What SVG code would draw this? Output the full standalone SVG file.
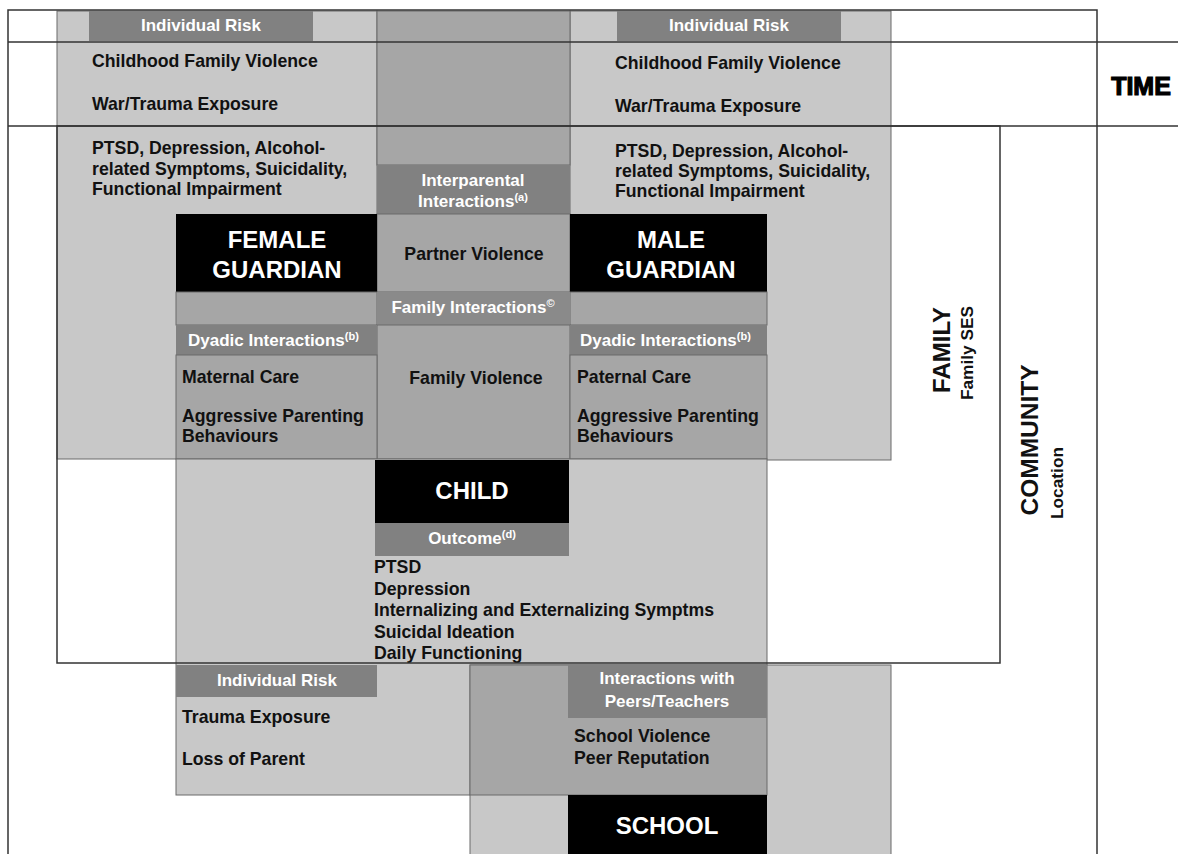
<svg xmlns="http://www.w3.org/2000/svg" width="1178" height="854" viewBox="0 0 1178 854">
<style>
text{font-family:"Liberation Sans",Arial,sans-serif;font-weight:bold}
.t{font-size:17.7px;fill:#111}
.h{font-size:17px;fill:#fff}
.k{font-size:24px;fill:#fff}
.r{font-size:17.3px;fill:#111}
.sup{font-size:11px}
.lt{fill:#c8c8c8;stroke:#6a6a6a;stroke-width:1}
.md{fill:#a6a6a6;stroke:#6a6a6a;stroke-width:1}
.dk{fill:#818181}
.bk{fill:#000}
.ln{stroke:#333;stroke-width:1.5;fill:none}
</style>
<rect width="1178" height="854" fill="#fff"/>

<g id="female-individual">
<rect class="lt" x="57" y="11" width="320" height="448"/>
<rect class="dk" x="89" y="11" width="224" height="30"/>
<text class="h" x="201" y="31" text-anchor="middle">Individual Risk</text>
<text class="t" x="92" y="67">Childhood Family Violence</text>
<text class="t" x="92" y="110">War/Trauma Exposure</text>
<text class="t" x="92" y="154">PTSD, Depression, Alcohol-</text>
<text class="t" x="92" y="175">related Symptoms, Suicidality,</text>
<text class="t" x="92" y="195">Functional Impairment</text>
</g>

<g id="male-individual">
<rect class="lt" x="570" y="11" width="321" height="449"/>
<rect class="dk" x="617" y="11" width="224" height="30"/>
<text class="h" x="729" y="31" text-anchor="middle">Individual Risk</text>
<text class="t" x="615" y="69">Childhood Family Violence</text>
<text class="t" x="615" y="112">War/Trauma Exposure</text>
<text class="t" x="615" y="157">PTSD, Depression, Alcohol-</text>
<text class="t" x="615" y="177">related Symptoms, Suicidality,</text>
<text class="t" x="615" y="197">Functional Impairment</text>
</g>

<g id="interparental">
<rect class="md" x="377" y="11" width="193" height="154"/>
<rect class="dk" x="377" y="165" width="193" height="49"/>
<text class="h" x="473" y="186" text-anchor="middle">Interparental</text>
<text class="h" x="473" y="207" text-anchor="middle">Interactions<tspan class="sup" dy="-6">(a)</tspan></text>
<rect class="md" x="377" y="214" width="193" height="78"/>
<text class="t" x="474" y="260" text-anchor="middle">Partner Violence</text>
</g>

<g id="female-guardian">
<rect class="bk" x="176" y="214" width="201" height="78"/>
<text class="k" x="277" y="248" text-anchor="middle">FEMALE</text>
<text class="k" x="277" y="278" text-anchor="middle">GUARDIAN</text>
</g>

<g id="male-guardian">
<rect class="bk" x="570" y="214" width="197" height="78"/>
<text class="k" x="671" y="248" text-anchor="middle">MALE</text>
<text class="k" x="671" y="278" text-anchor="middle">GUARDIAN</text>
</g>

<g id="family-interactions">
<rect class="md" x="176" y="292" width="201" height="33"/>
<rect class="md" x="570" y="292" width="197" height="33"/>
<rect fill="#8a8a8a" x="377" y="292" width="193" height="33"/>
<text class="h" x="473" y="313" text-anchor="middle">Family Interactions<tspan class="sup" dy="-6">©</tspan></text>
<rect class="md" x="377" y="325" width="193" height="134"/>
<text class="t" x="476" y="384" text-anchor="middle">Family Violence</text>
</g>

<g id="maternal-dyadic">
<rect class="dk" x="176" y="325" width="201" height="30"/>
<text class="h" x="188" y="346">Dyadic Interactions<tspan class="sup" dy="-6">(b)</tspan></text>
<rect class="md" x="176" y="355" width="201" height="104"/>
<text class="t" x="182" y="383">Maternal Care</text>
<text class="t" x="182" y="422">Aggressive Parenting</text>
<text class="t" x="182" y="442">Behaviours</text>
</g>

<g id="paternal-dyadic">
<rect class="dk" x="570" y="325" width="197" height="30"/>
<text class="h" x="580" y="346">Dyadic Interactions<tspan class="sup" dy="-6">(b)</tspan></text>
<rect class="md" x="570" y="355" width="197" height="104"/>
<text class="t" x="577" y="383">Paternal Care</text>
<text class="t" x="577" y="422">Aggressive Parenting</text>
<text class="t" x="577" y="442">Behaviours</text>
</g>

<g id="child">
<rect class="lt" x="176" y="459" width="591" height="336"/>
<rect class="lt" x="470" y="665" width="421" height="195"/>
<rect class="md" x="470" y="665" width="297" height="130"/>
<rect class="bk" x="375" y="460" width="194" height="63"/>
<text class="k" x="472" y="499" text-anchor="middle">CHILD</text>
<rect class="dk" x="375" y="523" width="194" height="33"/>
<text class="h" x="472" y="544" text-anchor="middle">Outcome<tspan class="sup" dy="-6">(d)</tspan></text>
<text class="t" x="374" y="573">PTSD</text>
<text class="t" x="374" y="595">Depression</text>
<text class="t" x="374" y="616">Internalizing and Externalizing Symptms</text>
<text class="t" x="374" y="638">Suicidal Ideation</text>
<text class="t" x="374" y="659">Daily Functioning</text>
</g>

<g id="child-individual">
<rect class="dk" x="176" y="665" width="201" height="32"/>
<text class="h" x="277" y="686" text-anchor="middle">Individual Risk</text>
<text class="t" x="182" y="723">Trauma Exposure</text>
<text class="t" x="182" y="765">Loss of Parent</text>
</g>

<g id="school">
<rect class="dk" x="568" y="665" width="199" height="53"/>
<text class="h" x="667" y="684" text-anchor="middle">Interactions with</text>
<text class="h" x="667" y="707" text-anchor="middle">Peers/Teachers</text>
<text class="t" x="574" y="742">School Violence</text>
<text class="t" x="574" y="764">Peer Reputation</text>
<rect class="bk" x="568" y="795" width="199" height="60"/>
<text class="k" x="667" y="834" text-anchor="middle">SCHOOL</text>
</g>

<g id="context-lines">
<path class="ln" d="M8,854 V10 H1097 V854"/>
<line class="ln" x1="8" y1="42" x2="1178" y2="42"/>
<line class="ln" x1="8" y1="126" x2="1178" y2="126"/>
<rect class="ln" x="57" y="126" width="943" height="537" stroke="#444"/>
</g>

<g id="time">
<text x="1141" y="95" text-anchor="middle" font-size="25" fill="#000" stroke="#000" stroke-width="1.2">TIME</text>
</g>

<g id="family">
<text transform="translate(950,350) rotate(-90)" text-anchor="middle" font-size="24" fill="#111">FAMILY</text>
<text class="r" transform="translate(973,353) rotate(-90)" text-anchor="middle">Family SES</text>
</g>

<g id="community">
<text transform="translate(1038,440) rotate(-90)" text-anchor="middle" font-size="24.5" fill="#111">COMMUNITY</text>
<text class="r" transform="translate(1063,483) rotate(-90)" text-anchor="middle">Location</text>
</g>
</svg>
